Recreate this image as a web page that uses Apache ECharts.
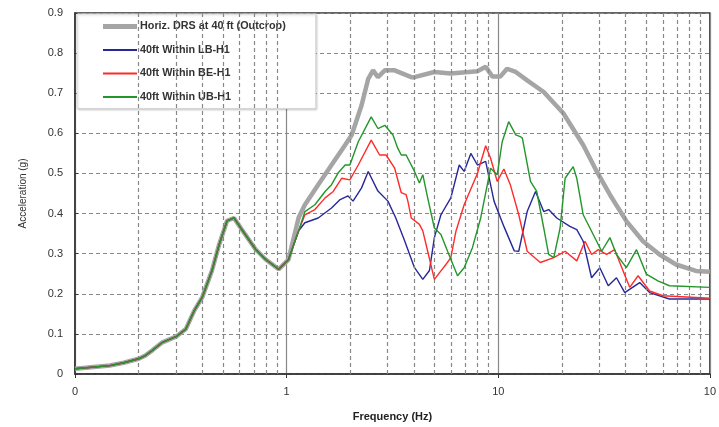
<!DOCTYPE html>
<html>
<head>
<meta charset="utf-8">
<script src="https://cdn.jsdelivr.net/npm/echarts@6/dist/echarts.min.js"></script>
<style>
  html, body {margin: 0; padding: 0; background: #fff;}
  #chart {width: 719px; height: 427px;}
</style>
</head>
<body>
<div id="chart"></div>
<script>
// x axis tick labels (as printed, clipped in the source)
const xTickValues = [0.1, 1, 10, 100]
const xTickLabels = ['0', '1', '10', '10']
// dashed minor grid frequencies
const minorFreqs = [0.2, 0.3, 0.4, 0.5, 0.6, 0.7, 0.8, 0.9, 2, 3, 4, 5, 6, 7, 8, 9, 20, 30, 40, 50, 60, 70, 80, 90]

const seriesNames = ['Horiz. DRS at 40 ft (Outcrop)', '40ft Within LB-H1', '40ft Within BE-H1', '40ft Within UB-H1']

// [frequency Hz, acceleration g]; all curves share the low-frequency part
const lowFreq = [
  [0.1, 0.013], [0.146, 0.021], [0.17, 0.028], [0.2, 0.038], [0.215, 0.046], [0.232, 0.059],
  [0.259, 0.079], [0.3, 0.093], [0.334, 0.112], [0.366, 0.158], [0.399, 0.191], [0.444, 0.258],
  [0.48, 0.323], [0.523, 0.382], [0.564, 0.389], [0.607, 0.364], [0.713, 0.311], [0.794, 0.286],
  [0.917, 0.261], [1.02, 0.285]
]
const drs = [
  [1.14, 0.39], [1.22, 0.422], [1.41, 0.472], [1.63, 0.521], [1.89, 0.571], [2.03, 0.596],
  [2.26, 0.67], [2.43, 0.736], [2.56, 0.757], [2.7, 0.74], [2.91, 0.757], [3.24, 0.757],
  [3.88, 0.74], [4.02, 0.74], [4.99, 0.753], [5.97, 0.749], [7.97, 0.755], [8.72, 0.766],
  [9.37, 0.742], [10.25, 0.742], [11.0, 0.761], [12.1, 0.753], [13.7, 0.732], [16.4, 0.703],
  [20.3, 0.65], [25.2, 0.571], [29.2, 0.505], [33.7, 0.447], [40.3, 0.381], [48.3, 0.331],
  [57.8, 0.298], [69.2, 0.273], [85.9, 0.257], [100, 0.255]
]
const lb = [
  [1.14, 0.357], [1.22, 0.377], [1.41, 0.389], [1.63, 0.414], [1.79, 0.435], [1.95, 0.444],
  [2.06, 0.431], [2.26, 0.464], [2.43, 0.505], [2.7, 0.456], [3.01, 0.431], [3.28, 0.389],
  [3.61, 0.332], [4.02, 0.265], [4.4, 0.236], [4.73, 0.258], [4.99, 0.34], [5.36, 0.397],
  [5.97, 0.439], [6.54, 0.521], [6.9, 0.505], [7.42, 0.55], [7.97, 0.521], [8.72, 0.53],
  [9.55, 0.431], [10.63, 0.368], [11.9, 0.307], [12.5, 0.306], [13.7, 0.405], [15.0, 0.455],
  [16.4, 0.405], [17.3, 0.41], [18.9, 0.389], [21.8, 0.368], [23.5, 0.36], [25.2, 0.331],
  [27.6, 0.24], [30.2, 0.265], [33.1, 0.22], [36.2, 0.24], [39.6, 0.203], [46.6, 0.228],
  [51.9, 0.203], [64.4, 0.187], [100, 0.187]
]
const be = [
  [1.14, 0.357], [1.22, 0.397], [1.36, 0.41], [1.52, 0.439], [1.66, 0.455], [1.82, 0.488],
  [1.99, 0.484], [2.18, 0.521], [2.51, 0.583], [2.75, 0.546], [2.95, 0.546], [3.24, 0.513],
  [3.48, 0.452], [3.67, 0.447], [3.74, 0.431], [3.88, 0.389], [4.24, 0.373], [4.4, 0.357],
  [4.64, 0.306], [4.99, 0.236], [5.36, 0.257], [5.66, 0.273], [5.97, 0.29], [6.31, 0.356],
  [6.9, 0.422], [7.97, 0.5], [8.72, 0.569], [9.2, 0.538], [9.89, 0.48], [10.63, 0.511],
  [11.4, 0.472], [12.5, 0.397], [13.7, 0.306], [15.8, 0.278], [18.3, 0.29], [20.7, 0.306],
  [23.5, 0.282], [25.7, 0.331], [27.6, 0.298], [29.7, 0.31], [32.5, 0.298], [35.5, 0.31],
  [38.9, 0.257], [41.8, 0.216], [45.8, 0.245], [51.9, 0.207], [60, 0.195], [100, 0.189]
]
const ub = [
  [1.14, 0.357], [1.22, 0.405], [1.36, 0.422], [1.52, 0.455], [1.63, 0.472], [1.75, 0.501],
  [1.89, 0.521], [1.99, 0.521], [2.18, 0.579], [2.51, 0.641], [2.7, 0.612], [2.91, 0.62],
  [3.18, 0.596], [3.35, 0.563], [3.48, 0.546], [3.67, 0.546], [4.02, 0.505], [4.24, 0.476],
  [4.4, 0.497], [4.64, 0.439], [4.99, 0.364], [5.36, 0.348], [5.76, 0.306], [6.42, 0.245],
  [6.9, 0.265], [7.55, 0.315], [8.26, 0.389], [8.88, 0.472], [9.2, 0.513], [9.89, 0.497],
  [10.44, 0.579], [11.2, 0.629], [12.1, 0.596], [12.7, 0.592], [13.0, 0.588], [14.2, 0.48],
  [15.2, 0.455], [16.4, 0.364], [17.3, 0.298], [18.3, 0.29], [19.6, 0.364], [20.7, 0.488],
  [22.6, 0.517], [23.5, 0.488], [25.2, 0.397], [27.6, 0.356], [30.8, 0.306], [33.7, 0.34],
  [36.2, 0.298], [40.3, 0.265], [45.0, 0.31], [50.1, 0.249], [56.8, 0.232], [64.4, 0.22],
  [100, 0.216]
]

const chart = echarts.init(document.getElementById('chart'))

// flat line icons for the legend (thick one for the DRS curve)
const thickIcon = 'path://M0,0 L34,0 L34,5 L0,5 Z'
const thinIcon = 'path://M0,0 L34,0 L34,2 L0,2 Z'

chart.setOption({
  animation: false,
  textStyle: {fontFamily: 'Liberation Sans, Arial, sans-serif'},
  grid: {
    left: 75, right: 5, top: 13, bottom: 50,
    show: true, borderColor: '#333', borderWidth: 1.5, backgroundColor: '#fff'
  },
  legend: {
    data: seriesNames.map((name, i) => ({name, icon: i === 0 ? thickIcon : thinIcon})),
    orient: 'vertical',
    left: 77, top: 14,
    padding: [7, 30, 6, 26],
    itemWidth: 34, itemHeight: 14, itemGap: 12.5,
    symbolKeepAspect: true,
    backgroundColor: '#fff',
    borderColor: '#d6d6d6', borderWidth: 1,
    shadowColor: 'rgba(0,0,0,0.15)', shadowBlur: 2, shadowOffsetX: 1, shadowOffsetY: 1,
    textStyle: {fontSize: 10.8, fontWeight: 'bold', color: '#333', padding: [0, 0, 0, -2]}
  },
  xAxis: {
    type: 'log',
    logBase: 10,
    min: 0.1, max: 100,
    name: 'Frequency (Hz)',
    nameLocation: 'middle',
    nameGap: 37,
    nameTextStyle: {fontSize: 11, fontWeight: 'bold', color: '#222'},
    axisLine: {lineStyle: {color: '#333', width: 1.5}},
    axisTick: {show: true, inside: false, length: 4, lineStyle: {color: '#333'}},
    axisLabel: {
      fontSize: 11, color: '#333', margin: 12,
      formatter(val) {
        const i = xTickValues.findIndex(v => Math.abs(Math.log10(v) - Math.log10(val)) < 1e-6)
        return i >= 0 ? xTickLabels[i] : ''
      }
    },
    splitLine: {show: true, lineStyle: {color: '#888', width: 1.2}}
  },
  yAxis: {
    type: 'value',
    min: 0, max: 0.9, interval: 0.1,
    name: 'Acceleration (g)',
    nameLocation: 'middle',
    nameGap: 47,
    nameTextStyle: {fontSize: 10, color: '#333'},
    axisLine: {show: true, lineStyle: {color: '#333', width: 1.5}},
    axisTick: {show: true, inside: true, length: 3, lineStyle: {color: '#333'}},
    axisLabel: {fontSize: 11, color: '#333', margin: 12},
    splitLine: {show: true, lineStyle: {color: '#888', width: 1.2, type: [4, 3]}}
  },
  series: [
    {
      name: 'minor grid',
      type: 'line',
      data: [],
      z: 1,
      silent: true,
      markLine: {
        silent: true,
        symbol: 'none',
        label: {show: false},
        lineStyle: {color: '#888', width: 1.2, type: [4, 3]},
        data: minorFreqs.map(f => ({xAxis: f}))
      }
    },
    {name: seriesNames[0], data: lowFreq.concat(drs), color: '#a5a5a5', lineStyle: {width: 4.5}},
    {name: seriesNames[1], data: lowFreq.concat(lb), color: '#27279a', lineStyle: {width: 1.4}},
    {name: seriesNames[2], data: lowFreq.concat(be), color: '#ff2b2b', lineStyle: {width: 1.4}},
    {name: seriesNames[3], data: lowFreq.concat(ub), color: '#22962a', lineStyle: {width: 1.4}}
  ].map((s, i) => i === 0 ? s : ({
    ...s,
    type: 'line',
    symbol: 'none',
    z: 2 + i
  }))
})
</script>
</body>
</html>
